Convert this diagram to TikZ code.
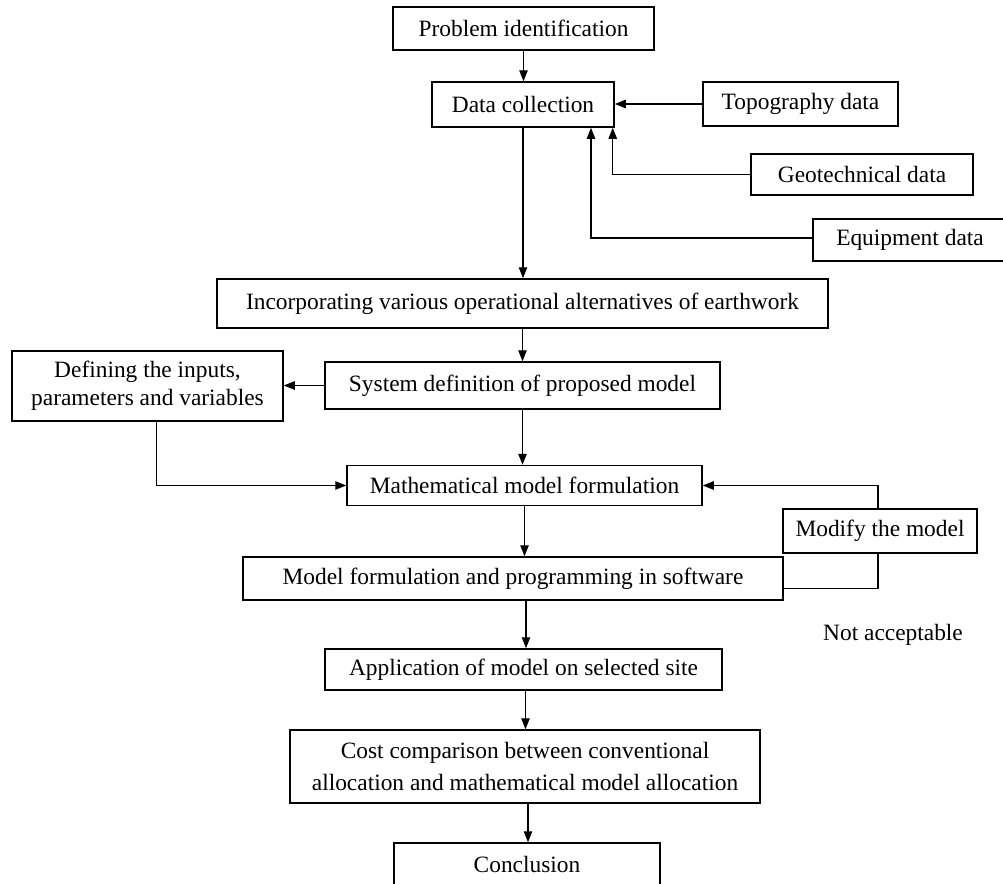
\documentclass[tikz,border=0pt]{standalone}
\usepackage{fontspec}
\setmainfont{Liberation Serif}
\usetikzlibrary{arrows.meta}
\begin{document}
\begin{tikzpicture}[x=0.5pt,y=-0.5pt,
  box/.style={draw, line width=0.75pt, rectangle, inner sep=0pt, align=center, font=\fontsize{11.7}{14.5}\selectfont},
  arr/.style={line width=0.7pt, -{Triangle[length=5.5pt,width=4.2pt]}},
  ln/.style={line width=0.7pt}]
\useasboundingbox (0,0) rectangle (1003,884);
\node[box, minimum width=130.5pt, minimum height=21.5pt] (pi) at (523.5,28.5) {Problem identification};
\node[box, minimum width=91pt, minimum height=22.5pt] (dc) at (523,104.5) {Data collection};
\node[box, minimum width=97.5pt, minimum height=22pt] (topo) at (800.5,104) {Topography data};
\node[box, minimum width=111pt, minimum height=20.5pt] (geo) at (862,174.5) {Geotechnical data};
\node[box, minimum width=97pt, minimum height=21pt] (equip) at (910,240) {Equipment data};
\node[box, minimum width=305.5pt, minimum height=24.5pt] (inc) at (522.5,303.5) {Incorporating various operational alternatives of earthwork};
\node[box, minimum width=197.5pt, minimum height=23.5pt] (sys) at (522.5,385.5) {System definition of proposed model};
\node[box, minimum width=135.5pt, minimum height=35pt, font=\fontsize{11.7}{14}\selectfont] (def) at (147.5,386) {Defining the inputs,\\parameters and variables};
\node[box, minimum width=177.5pt, minimum height=20pt] (math) at (524.5,485.5) {Mathematical model formulation};
\node[box, minimum width=97pt, minimum height=22pt] (modify) at (880,531) {Modify the model};
\node[box, minimum width=270pt, minimum height=21.5pt] (mf) at (513,578.5) {Model formulation and programming in software};
\node[box, minimum width=198.5pt, minimum height=20.5pt] (app) at (523.5,669.5) {Application of model on selected site};
\node[box, minimum width=235pt, minimum height=36.5pt, font=\fontsize{11.7}{16}\selectfont] (cost) at (525,766.5) {Cost comparison between conventional\\allocation and mathematical model allocation};
\node[box, minimum width=133pt, minimum height=21.5pt] (concl) at (527,864.5) {Conclusion};
\node[font=\fontsize{11.7}{14}\selectfont, inner sep=0pt] (na) at (893,635) {Not acceptable};

\draw[arr] (pi.south) -- (pi.south |- dc.north);
\draw[arr] (topo.west) -- (topo.west -| dc.east);
\draw[arr] (geo.west) -| ([xshift=-1pt]dc.south east);
\draw[arr] ([yshift=1pt]equip.west) -| ([xshift=34pt]dc.south);
\draw[arr] (dc.south) -- (dc.south |- inc.north);
\draw[arr] (inc.south) -- (inc.south |- sys.north);
\draw[arr] (sys.west) -- (sys.west -| def.east);
\draw[arr] ([xshift=4.5pt]def.south) |- (math.west);
\draw[arr] (sys.south) -- (sys.south |- math.north);
\draw[arr] (math.south) -- (math.south |- mf.north);
\draw[arr] ([xshift=-1pt]modify.north) |- (math.east);
\draw[ln] ([yshift=-5pt]mf.east) -| ([xshift=-1pt]modify.south);
\draw[arr] ([xshift=6.5pt]mf.south) -- ([xshift=6.5pt]mf.south |- app.north);
\draw[arr] ([xshift=1pt]app.south) -- ([xshift=1pt]app.south |- cost.north);
\draw[arr] ([xshift=1.5pt]cost.south) -- ([xshift=1.5pt]cost.south |- concl.north);
\end{tikzpicture}
\end{document}
